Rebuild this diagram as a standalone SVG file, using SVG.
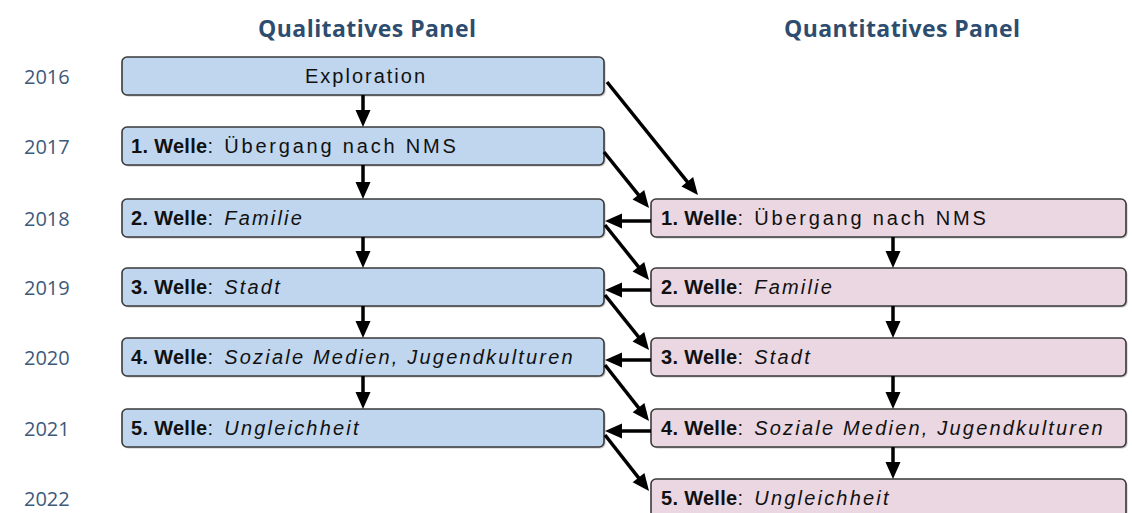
<svg xmlns="http://www.w3.org/2000/svg" width="1132" height="513" viewBox="0 0 1132 513">
<defs>
<marker id="ah" markerUnits="userSpaceOnUse" markerWidth="16" markerHeight="15" refX="4" refY="7.5" orient="auto" overflow="visible">
<path d="M0,0 L17,7.5 L0,15 z" fill="#000"/>
</marker>
</defs>
<style>
.title{font-family:"Open Sans","Liberation Sans",sans-serif;font-weight:bold;font-size:23px;fill:#2e4d6e}
.year{font-family:"Open Sans","DejaVu Sans",sans-serif;font-size:20px;fill:#3d5a7a}
.qual{fill:#bfd6ee;stroke:#3a3a3a;stroke-width:1.6}
.quan{fill:#ead7e1;stroke:#3a3a3a;stroke-width:1.6}
.shadow{fill:#8a8a8a;opacity:0.5}
.lbl{font-family:"Liberation Sans",Arial,sans-serif;font-size:20px;fill:#111;letter-spacing:2.8px}
.expl{letter-spacing:2px}
.b{font-weight:bold;letter-spacing:0.3px}
.i{font-style:italic;letter-spacing:2.2px}
.conn line{stroke:#000;stroke-width:3.5;marker-end:url(#ah)}
</style>
<rect width="1132" height="513" fill="#fff"/>
<text class="title" x="367" y="37" text-anchor="middle" textLength="218" lengthAdjust="spacing">Qualitatives Panel</text>
<text class="title" x="902" y="37" text-anchor="middle" textLength="236" lengthAdjust="spacing">Quantitatives Panel</text>
<g id="years">
<text class="year" x="24" y="84">2016</text>
<text class="year" x="24" y="154">2017</text>
<text class="year" x="24" y="226">2018</text>
<text class="year" x="24" y="295">2019</text>
<text class="year" x="24" y="365">2020</text>
<text class="year" x="24" y="436">2021</text>
<text class="year" x="24" y="506">2022</text>
</g>
<g id="qual-exploration">
<rect class="shadow" x="123.5" y="58.5" width="482" height="38" rx="5"/>
<rect class="qual" x="122" y="57" width="482" height="38" rx="5"/>
<text class="lbl expl" x="366" y="83" text-anchor="middle">Exploration</text>
</g>
<g id="qual-w1">
<rect class="shadow" x="123.5" y="128.5" width="482" height="38" rx="5"/>
<rect class="qual" x="122" y="127" width="482" height="38" rx="5"/>
<text class="lbl" x="131" y="153"><tspan class="b">1. Welle</tspan>: Übergang nach NMS</text>
</g>
<g id="qual-w2">
<rect class="shadow" x="123.5" y="200.5" width="482" height="38" rx="5"/>
<rect class="qual" x="122" y="199" width="482" height="38" rx="5"/>
<text class="lbl" x="131" y="225"><tspan class="b">2. Welle</tspan>: <tspan class="i">Familie</tspan></text>
</g>
<g id="qual-w3">
<rect class="shadow" x="123.5" y="269.5" width="482" height="38" rx="5"/>
<rect class="qual" x="122" y="268" width="482" height="38" rx="5"/>
<text class="lbl" x="131" y="294"><tspan class="b">3. Welle</tspan>: <tspan class="i">Stadt</tspan></text>
</g>
<g id="qual-w4">
<rect class="shadow" x="123.5" y="339.5" width="482" height="38" rx="5"/>
<rect class="qual" x="122" y="338" width="482" height="38" rx="5"/>
<text class="lbl" x="131" y="364"><tspan class="b">4. Welle</tspan>: <tspan class="i">Soziale Medien, Jugendkulturen</tspan></text>
</g>
<g id="qual-w5">
<rect class="shadow" x="123.5" y="410.5" width="482" height="38" rx="5"/>
<rect class="qual" x="122" y="409" width="482" height="38" rx="5"/>
<text class="lbl" x="131" y="435"><tspan class="b">5. Welle</tspan>: <tspan class="i">Ungleichheit</tspan></text>
</g>
<g id="quan-w1">
<rect class="shadow" x="652.5" y="200.5" width="475" height="38" rx="5"/>
<rect class="quan" x="651" y="199" width="475" height="38" rx="5"/>
<text class="lbl" x="661" y="225"><tspan class="b">1. Welle</tspan>: Übergang nach NMS</text>
</g>
<g id="quan-w2">
<rect class="shadow" x="652.5" y="269.5" width="475" height="38" rx="5"/>
<rect class="quan" x="651" y="268" width="475" height="38" rx="5"/>
<text class="lbl" x="661" y="294"><tspan class="b">2. Welle</tspan>: <tspan class="i">Familie</tspan></text>
</g>
<g id="quan-w3">
<rect class="shadow" x="652.5" y="339.5" width="475" height="38" rx="5"/>
<rect class="quan" x="651" y="338" width="475" height="38" rx="5"/>
<text class="lbl" x="661" y="364"><tspan class="b">3. Welle</tspan>: <tspan class="i">Stadt</tspan></text>
</g>
<g id="quan-w4">
<rect class="shadow" x="652.5" y="410.5" width="475" height="38" rx="5"/>
<rect class="quan" x="651" y="409" width="475" height="38" rx="5"/>
<text class="lbl" x="661" y="435"><tspan class="b">4. Welle</tspan>: <tspan class="i">Soziale Medien, Jugendkulturen</tspan></text>
</g>
<g id="quan-w5">
<rect class="shadow" x="652.5" y="480.5" width="475" height="38" rx="5"/>
<rect class="quan" x="651" y="479" width="475" height="38" rx="5"/>
<text class="lbl" x="661" y="505"><tspan class="b">5. Welle</tspan>: <tspan class="i">Ungleichheit</tspan></text>
</g>
<g id="connectors" class="conn">
<line x1="363" y1="95" x2="363" y2="114"/>
<line x1="363" y1="165" x2="363" y2="186"/>
<line x1="363" y1="237" x2="363" y2="255"/>
<line x1="363" y1="306" x2="363" y2="325"/>
<line x1="363" y1="376" x2="363" y2="396"/>
<line x1="893" y1="237" x2="893" y2="255"/>
<line x1="893" y1="306" x2="893" y2="325"/>
<line x1="893" y1="376" x2="893" y2="396"/>
<line x1="893" y1="447" x2="893" y2="466"/>
<line x1="651" y1="221" x2="618" y2="221"/>
<line x1="651" y1="290" x2="618" y2="290"/>
<line x1="651" y1="360" x2="618" y2="360"/>
<line x1="651" y1="431" x2="618" y2="431"/>
<line x1="607" y1="82" x2="689.8" y2="184.9"/>
<line x1="604" y1="152" x2="640.9" y2="197.8"/>
<line x1="605" y1="225" x2="640.9" y2="269.9"/>
<line x1="605" y1="295" x2="640.9" y2="339.9"/>
<line x1="605" y1="365" x2="641" y2="410.8"/>
<line x1="605" y1="435" x2="641" y2="480.8"/>
</g>
</svg>
